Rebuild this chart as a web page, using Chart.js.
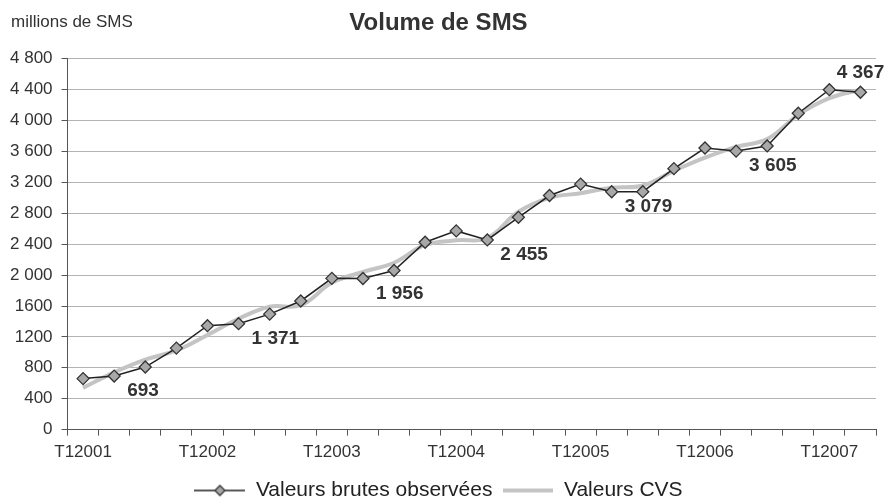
<!DOCTYPE html>
<html>
<head>
<meta charset="utf-8">
<script src="https://cdn.jsdelivr.net/npm/chart.js@4.4.0/dist/chart.umd.min.js"></script>
<style>
  body { margin: 0; background: #fff; }
  canvas { display: block; }
</style>
</head>
<body>
<canvas id="smsChart" width="890" height="497"></canvas>
<script>
// quarters T1 2001 .. T2 2007
const categories = [
    'T12001', 'T22001', 'T32001', 'T42001',
    'T12002', 'T22002', 'T32002', 'T42002',
    'T12003', 'T22003', 'T32003', 'T42003',
    'T12004', 'T22004', 'T32004', 'T42004',
    'T12005', 'T22005', 'T32005', 'T42005',
    'T12006', 'T22006', 'T32006', 'T42006',
    'T12007', 'T22007'
]
// millions de SMS
const rawValues = [660, 693, 810, 1055, 1345, 1371, 1495, 1665, 1958, 1956, 2060, 2425, 2572, 2455,
    2748, 3030, 3178, 3079, 3080, 3378, 3645, 3605, 3672, 4095, 4400, 4367]
const cvsValues = [540, 740, 905, 1025, 1225, 1435, 1590, 1610, 1900, 2040, 2160, 2390, 2450, 2480,
    2820, 3000, 3060, 3130, 3160, 3350, 3520, 3660, 3760, 4075, 4290, 4400]
const yTickLabels = ['0', '400', '800', '1200', '1600', '2 000', '2 400', '2 800', '3 200',
    '3 600', '4 000', '4 400', '4 800']
const labelledPoints = [1, 5, 9, 13, 17, 21, 25] // T2 of each year

const fmt = v => String(v).replace(/\B(?=(\d{3})+(?!\d))/g, ' ')

// legend symbols
function legendRaw() {
    const c = document.createElement('canvas')
    c.width = 51; c.height = 14
    const g = c.getContext('2d')
    g.strokeStyle = '#222'; g.lineWidth = 1.5
    g.beginPath(); g.moveTo(0, 7); g.lineTo(51, 7); g.stroke()
    g.beginPath(); g.moveTo(25.5, 2); g.lineTo(30.5, 7); g.lineTo(25.5, 12); g.lineTo(20.5, 7); g.closePath()
    g.fillStyle = '#a8a8a8'; g.fill()
    g.strokeStyle = '#333'; g.lineWidth = 1.3; g.stroke()
    return c
}
function legendCvs() {
    const c = document.createElement('canvas')
    c.width = 50; c.height = 8
    const g = c.getContext('2d')
    g.strokeStyle = '#c4c4c4'; g.lineWidth = 4
    g.beginPath(); g.moveTo(0, 4); g.lineTo(50, 4); g.stroke()
    return c
}
const legendIcons = [legendRaw(), legendCvs()]

const extras = {
    id: 'extras',
    afterDatasetsDraw(chart) {
        const ctx = chart.ctx
        const pts = chart.getDatasetMeta(0).data
        ctx.save()
        ctx.fillStyle = '#333'
        ctx.font = 'bold 19px "Liberation Sans", Arial, sans-serif'
        ctx.textBaseline = 'middle'
        labelledPoints.forEach((i, n) => {
            const p = pts[i]
            if (n === labelledPoints.length - 1) {
                ctx.textAlign = 'center'
                ctx.fillText(fmt(rawValues[i]), p.x, p.y - 19)
            } else {
                ctx.textAlign = 'left'
                ctx.fillText(fmt(rawValues[i]), p.x + 13, p.y + 15)
            }
        })
        // unit text top-left
        ctx.font = '17px "Liberation Sans", Arial, sans-serif'
        ctx.textAlign = 'left'
        ctx.fillText('millions de SMS', 11, 22)
        ctx.restore()
    }
}

document.addEventListener('DOMContentLoaded', () => {
    const ctx = document.getElementById('smsChart').getContext('2d')

    new Chart(ctx, {
        type: 'line',
        data: {
            labels: categories,
            datasets: [
                {
                    label: 'Valeurs brutes observées',
                    data: rawValues,
                    borderColor: '#222',
                    borderWidth: 1.5,
                    tension: 0,
                    pointStyle: 'rectRot',
                    pointRadius: 6,
                    pointBackgroundColor: '#a8a8a8',
                    pointBorderColor: '#333',
                    pointBorderWidth: 1.3,
                    order: 1
                },
                {
                    label: 'Valeurs CVS',
                    data: cvsValues,
                    borderColor: '#c4c4c4',
                    borderWidth: 4,
                    tension: 0.4,
                    pointRadius: 0,
                    order: 2
                }
            ]
        },
        options: {
            responsive: false,
            animation: false,
            layout: { padding: { left: 1, right: 14, top: 0, bottom: -14 } },
            scales: {
                x: {
                    offset: true,
                    grid: {
                        offset: true,
                        drawOnChartArea: false,
                        drawTicks: true,
                        tickLength: 6,
                        tickColor: '#555'
                    },
                    border: { color: '#555', width: 1 },
                    ticks: {
                        autoSkip: false,
                        maxRotation: 0,
                        padding: 7,
                        color: '#333',
                        font: { family: '"Liberation Sans", Arial, sans-serif', size: 17 },
                        callback: (v, i) => i % 4 === 0 ? categories[i] : ''
                    }
                },
                y: {
                    min: 0,
                    max: 4800,
                    grid: {
                        color: '#b4b4b4',
                        lineWidth: 1,
                        tickLength: 6,
                        tickColor: '#555'
                    },
                    border: { color: '#555', width: 1 },
                    ticks: {
                        stepSize: 400,
                        padding: 9,
                        color: '#333',
                        font: { family: '"Liberation Sans", Arial, sans-serif', size: 17 },
                        callback: (v, i) => yTickLabels[i]
                    }
                }
            },
            plugins: {
                title: {
                    display: true,
                    text: 'Volume de SMS',
                    color: '#333',
                    font: { family: '"Liberation Sans", Arial, sans-serif', size: 24, weight: 'bold' },
                    padding: { top: 9, bottom: 21 }
                },
                legend: {
                    position: 'bottom',
                    labels: {
                        usePointStyle: true,
                        pointStyleWidth: 51,
                        padding: 10,
                        color: '#222',
                        font: { family: '"Liberation Sans", Arial, sans-serif', size: 21 },
                        generateLabels: chart => Chart.defaults.plugins.legend.labels.generateLabels(chart)
                            .map((item, i) => Object.assign(item, { pointStyle: legendIcons[i] }))
                    }
                },
                tooltip: { enabled: false }
            }
        },
        plugins: [extras]
    })
})
</script>
</body>
</html>
